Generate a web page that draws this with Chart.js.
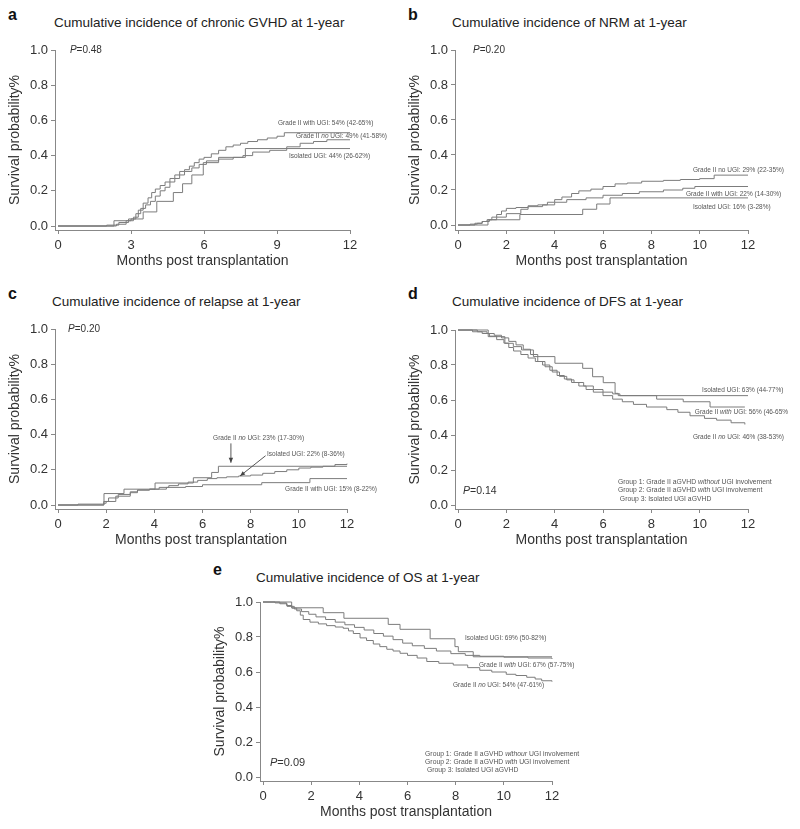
<!DOCTYPE html>
<html><head><meta charset="utf-8">
<script src="https://cdn.jsdelivr.net/npm/chart.js@4/dist/chart.umd.min.js"></script>
<style>
html,body{margin:0;padding:0;background:#fff;width:800px;height:829px;overflow:hidden;font-family:"Liberation Sans",Arial,sans-serif;}
canvas{position:absolute;}
.lbl{position:absolute;font-weight:bold;font-size:16px;color:#111;line-height:1;}
.ttl{position:absolute;font-size:13.5px;color:#222;line-height:1;white-space:nowrap;}
</style></head><body>
<div class="lbl" style="left:8px;top:7px">a</div>
<div class="ttl" style="left:54px;top:16px">Cumulative incidence of chronic GVHD at 1-year</div>
<div class="lbl" style="left:408px;top:7px">b</div>
<div class="ttl" style="left:452px;top:16px">Cumulative incidence of NRM at 1-year</div>
<div class="lbl" style="left:8px;top:286px">c</div>
<div class="ttl" style="left:52px;top:295px">Cumulative incidence of relapse at 1-year</div>
<div class="lbl" style="left:408px;top:286px">d</div>
<div class="ttl" style="left:452px;top:295px">Cumulative incidence of DFS at 1-year</div>
<div class="lbl" style="left:213px;top:562px">e</div>
<div class="ttl" style="left:256px;top:571px">Cumulative incidence of OS at 1-year</div>
<canvas id="ca"></canvas><canvas id="cb"></canvas><canvas id="cc"></canvas><canvas id="cd"></canvas><canvas id="ce"></canvas>
<script>
// ---------------- data ----------------
const monthsTicksA = [0, 3, 6, 9, 12];
const monthsTicks = [0, 2, 4, 6, 8, 10, 12];
const probTicks = [0, 0.2, 0.4, 0.6, 0.8, 1.0];

// a: chronic GVHD (cumulative incidence)
const aWithT = [0, 2.4, 2.8, 3.1, 3.3, 3.5, 3.7, 3.85, 4.0, 4.2, 4.4, 4.6, 4.8, 5.0, 5.2, 5.4, 5.6, 5.8, 6.0, 6.3, 6.6, 6.9, 7.2, 7.5, 7.8, 8.2, 8.6, 9.0, 9.3, 12];
const aWithV = [0, 0.01, 0.03, 0.05, 0.09, 0.13, 0.16, 0.19, 0.21, 0.23, 0.25, 0.27, 0.29, 0.31, 0.32, 0.34, 0.36, 0.38, 0.39, 0.41, 0.43, 0.45, 0.46, 0.47, 0.48, 0.49, 0.50, 0.51, 0.53, 0.53];
const aNoT = [0, 2.0, 2.5, 2.9, 3.2, 3.4, 3.6, 3.8, 4.0, 4.2, 4.4, 4.6, 4.8, 5.0, 5.2, 5.5, 5.8, 6.1, 6.6, 7.2, 7.6, 8.0, 8.7, 9.4, 9.95, 10.5, 11.05, 12];
const aNoV = [0, 0.005, 0.02, 0.04, 0.07, 0.10, 0.12, 0.14, 0.17, 0.20, 0.22, 0.25, 0.27, 0.29, 0.31, 0.33, 0.35, 0.37, 0.38, 0.39, 0.40, 0.42, 0.43, 0.45, 0.47, 0.48, 0.49, 0.49];
const aIsoT = [0, 2.3, 3.0, 3.5, 4.06, 4.74, 5.12, 5.5, 5.97, 6.6, 7.7, 12];
const aIsoV = [0, 0.03, 0.04, 0.08, 0.14, 0.19, 0.24, 0.29, 0.36, 0.39, 0.44, 0.44];

// b: NRM
const bNoT = [0, 0.5, 0.8, 1.0, 1.2, 1.4, 1.6, 1.8, 2.0, 2.4, 2.9, 3.3, 3.7, 4.0, 4.3, 4.7, 5.0, 5.5, 6.0, 6.5, 7.0, 7.6, 8.5, 9.2, 10.0, 10.6, 12];
const bNoV = [0, 0.005, 0.01, 0.02, 0.03, 0.045, 0.06, 0.08, 0.095, 0.10, 0.11, 0.115, 0.13, 0.145, 0.16, 0.18, 0.195, 0.205, 0.22, 0.235, 0.24, 0.25, 0.255, 0.26, 0.265, 0.285, 0.285];
const bWithT = [0, 0.7, 1.0, 1.3, 1.6, 2.0, 2.6, 2.9, 3.5, 4.0, 4.5, 5.3, 6.0, 6.8, 7.5, 8.5, 9.3, 9.8, 12];
const bWithV = [0, 0.01, 0.02, 0.03, 0.045, 0.065, 0.09, 0.105, 0.115, 0.13, 0.145, 0.155, 0.17, 0.18, 0.19, 0.20, 0.21, 0.22, 0.22];
const bIsoT = [0, 1.24, 2.56, 5.16, 5.74, 6.29, 12];
const bIsoV = [0, 0.03, 0.06, 0.09, 0.12, 0.155, 0.155];

// c: relapse
const cNoT = [0, 1.91, 2.74, 4.03, 5.62, 6.38, 6.66, 12];
const cNoV = [0, 0.065, 0.09, 0.125, 0.155, 0.185, 0.22, 0.22];
const cIsoT = [0, 0.83, 1.9, 2.1, 2.5, 3.0, 3.3, 3.8, 4.2, 4.6, 5.0, 5.4, 5.8, 6.2, 6.6, 7.0, 7.5, 8.0, 8.5, 9.0, 9.5, 10.0, 10.5, 11.0, 11.5, 12];
const cIsoV = [0, 0.005, 0.02, 0.04, 0.06, 0.075, 0.085, 0.09, 0.10, 0.11, 0.12, 0.13, 0.14, 0.15, 0.155, 0.16, 0.165, 0.17, 0.18, 0.19, 0.20, 0.21, 0.215, 0.22, 0.23, 0.235];
const cWithT = [0, 1.9, 2.0, 2.4, 3.0, 3.3, 3.8, 4.5, 5.3, 6.0, 8.46, 10.46, 12];
const cWithV = [0, 0.01, 0.02, 0.05, 0.07, 0.085, 0.09, 0.10, 0.105, 0.115, 0.127, 0.15, 0.15];

// d: DFS
const dIsoT = [0, 1.25, 1.94, 2.29, 2.63, 3.12, 4.01, 5.16, 5.57, 6.01, 6.5, 6.63, 12];
const dIsoV = [1, 0.962, 0.924, 0.905, 0.886, 0.848, 0.81, 0.781, 0.733, 0.699, 0.638, 0.625, 0.625];
const dWithT = [0, 0.8, 1.2, 1.5, 1.8, 2.1, 2.4, 2.7, 3.0, 3.3, 3.6, 3.9, 4.2, 4.5, 4.8, 5.2, 5.6, 6.0, 6.4, 6.7, 8.22, 9.32, 10.43, 11.87];
const dWithV = [1, 0.99, 0.98, 0.97, 0.955, 0.935, 0.915, 0.89, 0.86, 0.82, 0.79, 0.76, 0.735, 0.715, 0.70, 0.68, 0.66, 0.645, 0.635, 0.625, 0.605, 0.59, 0.56, 0.56];
const dNoT = [0, 0.6, 1.0, 1.3, 1.6, 1.9, 2.1, 2.3, 2.6, 2.9, 3.2, 3.5, 3.8, 4.1, 4.4, 4.7, 5.0, 5.3, 5.6, 6.0, 6.4, 6.8, 7.26, 7.8, 8.64, 9.1, 9.6, 10.2, 10.7, 11.3, 11.87];
const dNoV = [1, 0.99, 0.98, 0.965, 0.945, 0.925, 0.90, 0.88, 0.86, 0.84, 0.82, 0.80, 0.77, 0.74, 0.72, 0.70, 0.68, 0.66, 0.645, 0.625, 0.605, 0.59, 0.575, 0.56, 0.545, 0.53, 0.51, 0.495, 0.485, 0.47, 0.46];

// e: OS
const eIsoT = [0, 1.19, 2.5, 3.36, 5.2, 5.69, 6.94, 7.97, 8.11, 8.73, 12];
const eIsoV = [1, 0.967, 0.939, 0.907, 0.872, 0.844, 0.79, 0.745, 0.716, 0.687, 0.687];
const eWithT = [0, 0.7, 1.0, 1.3, 1.6, 1.9, 2.2, 2.6, 3.0, 3.4, 3.8, 4.2, 4.6, 5.0, 5.4, 5.8, 6.2, 6.7, 7.2, 7.8, 8.4, 9.0, 10.0, 11.0, 12];
const eWithV = [1, 0.99, 0.975, 0.96, 0.945, 0.93, 0.915, 0.90, 0.885, 0.87, 0.855, 0.84, 0.82, 0.805, 0.785, 0.765, 0.75, 0.735, 0.72, 0.705, 0.695, 0.69, 0.685, 0.68, 0.675];
const eNoT = [0, 0.5, 0.98, 1.2, 1.4, 1.55, 1.67, 1.95, 2.3, 2.64, 3.0, 3.33, 3.55, 3.75, 4.03, 4.3, 4.58, 4.85, 5.14, 5.4, 5.69, 6.0, 6.4, 6.8, 7.3, 7.9, 8.5, 9.0, 9.5, 10.1, 10.5, 10.95, 11.3, 11.57, 12];
const eNoV = [1, 0.995, 0.98, 0.965, 0.95, 0.925, 0.90, 0.885, 0.875, 0.865, 0.857, 0.85, 0.835, 0.82, 0.795, 0.78, 0.76, 0.745, 0.73, 0.72, 0.707, 0.695, 0.68, 0.66, 0.65, 0.64, 0.625, 0.61, 0.60, 0.587, 0.58, 0.57, 0.56, 0.55, 0.545];

// text labels (underscored words are italic)
const aLabels = ["Grade II with UGI: 54% (42-65%)", "Grade II _no_ UGI: 49% (41-58%)", "Isolated UGI: 44% (26-62%)"];
const bLabels = ["Grade II no UGI: 29% (22-35%)", "Grade II with UGI: 22% (14-30%)", "Isolated UGI: 16% (3-28%)"];
const cLabels = ["Grade II _no_ UGI: 23% (17-30%)", "Isolated UGI: 22% (8-36%)", "Grade II with UGI: 15% (8-22%)"];
const dLabels = ["Isolated UGI: 63% (44-77%)", "Grade II _with_ UGI: 56% (46-65%)", "Grade II _no_ UGI: 46% (38-53%)"];
const eLabels = ["Isolated UGI: 69% (50-82%)", "Grade II _with_ UGI: 67% (57-75%)", "Grade II _no_ UGI: 54% (47-61%)"];
const dGroups = ["Group 1: Grade II aGVHD _without_ UGI involvement", "Group 2: Grade II aGVHD _with_ UGI involvement", " Group 3: Isolated UGI aGVHD"];
const eGroups = ["Group 1: Grade II aGVHD _withour_ UGI involvement", "Group 2: Grade II aGVHD _with_ UGI involvement", " Group 3: Isolated UGI aGVHD"];
const pValues = ["0.48", "0.20", "0.20", "0.14", "0.09"];

// ---------------- layout ----------------
const FONT = '"Liberation Sans", Arial, sans-serif';
const LINE = '#7c7c7c';
const panels = [
  {id:'ca', L:55, T:50, R:350, B:230, x0:58, y0:226, xt:monthsTicksA,
   series:[[aWithT,aWithV],[aNoT,aNoV],[aIsoT,aIsoV]],
   labels:aLabels, lpos:[[9.04,0.583],[9.78,0.509],[9.49,0.394]], lsize:6.5,
   p:pValues[0], ppos:[0.49,1.0], psize:10},
  {id:'cb', L:455, T:50, R:748, B:230, x0:458, y0:225, xt:monthsTicks,
   series:[[bNoT,bNoV],[bWithT,bWithV],[bIsoT,bIsoV]],
   labels:bLabels, lpos:[[9.72,0.314],[9.43,0.177],[9.72,0.103]], lsize:6.5,
   p:pValues[1], ppos:[0.62,1.0], psize:10},
  {id:'cc', L:55, T:329, R:347, B:509, x0:58, y0:505, xt:monthsTicks,
   series:[[cNoT,cNoV],[cIsoT,cIsoV],[cWithT,cWithV]],
   labels:cLabels, lpos:[[6.44,0.377],[8.68,0.291],[9.43,0.091]], lsize:6.5,
   arrows:[[7.18,0.35,7.18,0.24],[8.62,0.28,7.56,0.165]],
   p:pValues[2], ppos:[0.42,1.0], psize:10},
  {id:'cd', L:455, T:330, R:748, B:509, x0:458, y0:505, xt:monthsTicks,
   series:[[dIsoT,dIsoV],[dWithT,dWithV],[dNoT,dNoV]],
   labels:dLabels, lpos:[[10.1,0.657],[9.8,0.531],[9.72,0.389]], lsize:6.5,
   groups:dGroups, gpos:[6.62,0.131], gstep:0.048,
   p:pValues[3], ppos:[0.21,0.08], psize:10.5},
  {id:'ce', L:260, T:602, R:552, B:781, x0:263, y0:777, xt:monthsTicks,
   series:[[eIsoT,eIsoV],[eWithT,eWithV],[eNoT,eNoV]],
   labels:eLabels, lpos:[[8.39,0.794],[8.97,0.64],[7.89,0.526]], lsize:6.5,
   groups:eGroups, gpos:[6.73,0.131], gstep:0.046,
   p:pValues[4], ppos:[0.29,0.08], psize:11}
];

function drawRich(ctx, x, y, text, size, color) {
  const parts = text.split('_');
  ctx.fillStyle = color; ctx.textBaseline = 'middle'; ctx.textAlign = 'left';
  let cx = x;
  parts.forEach((s, i) => {
    ctx.font = (i % 2 ? 'italic ' : '') + size + 'px ' + FONT;
    ctx.fillText(s, cx, y);
    cx += ctx.measureText(s).width;
  });
}

function makePlugin(p) {
  return {
    id: 'annot',
    afterDatasetsDraw(chart) {
      const ctx = chart.ctx, xs = chart.scales.x, ys = chart.scales.y;
      ctx.save();
      p.labels.forEach((t, i) => drawRich(ctx, xs.getPixelForValue(p.lpos[i][0]), ys.getPixelForValue(p.lpos[i][1]), t, p.lsize, '#555'));
      drawRich(ctx, xs.getPixelForValue(p.ppos[0]), ys.getPixelForValue(p.ppos[1]), '_P_=' + p.p, p.psize, '#333');
      if (p.groups) p.groups.forEach((t, i) => drawRich(ctx, xs.getPixelForValue(p.gpos[0]), ys.getPixelForValue(p.gpos[1] - i * p.gstep), t, 6.8, '#555'));
      if (p.arrows) p.arrows.forEach(a => {
        const x1 = xs.getPixelForValue(a[0]), y1 = ys.getPixelForValue(a[1]);
        const x2 = xs.getPixelForValue(a[2]), y2 = ys.getPixelForValue(a[3]);
        ctx.strokeStyle = '#444'; ctx.fillStyle = '#444'; ctx.lineWidth = 0.9;
        ctx.beginPath(); ctx.moveTo(x1, y1); ctx.lineTo(x2, y2); ctx.stroke();
        const ang = Math.atan2(y2 - y1, x2 - x1), L = 5, W = 2.2;
        ctx.beginPath();
        ctx.moveTo(x2, y2);
        ctx.lineTo(x2 - L * Math.cos(ang) + W * Math.sin(ang), y2 - L * Math.sin(ang) - W * Math.cos(ang));
        ctx.lineTo(x2 - L * Math.cos(ang) - W * Math.sin(ang), y2 - L * Math.sin(ang) + W * Math.cos(ang));
        ctx.closePath(); ctx.fill();
      });
      ctx.restore();
    }
  };
}

panels.forEach(p => {
  const cv = document.getElementById(p.id);
  const cw = p.R - p.L + 95, ch = p.B - p.T + 65;
  cv.width = cw; cv.height = ch;
  cv.style.left = (p.L - 55) + 'px'; cv.style.top = (p.T - 20) + 'px';
  cv.style.width = cw + 'px'; cv.style.height = ch + 'px';
  const pxPerMonth = (p.R - p.x0) / 12;
  const xmin = -(p.x0 - p.L) / pxPerMonth;
  const ymin = -(p.B - p.y0) / (p.y0 - p.T);
  const datasets = p.series.map(s => ({
    data: s[0].map((t, i) => ({x: t, y: s[1][i]})),
    borderColor: LINE, borderWidth: 1, pointRadius: 0, stepped: 'before',
    fill: false, tension: 0, clip: false
  }));
  new Chart(cv, {
    type: 'line',
    data: {datasets},
    options: {
      responsive: false, animation: false, devicePixelRatio: 1,
      layout: {padding: {left: 0, top: 20, right: 40, bottom: 5}},
      plugins: {legend: {display: false}, tooltip: {enabled: false}, title: {display: false}},
      scales: {
        x: {
          type: 'linear', min: xmin, max: 12,
          afterBuildTicks: s => { s.ticks = p.xt.map(v => ({value: v})); },
          afterFit: s => { s.height = 40; },
          ticks: {font: {family: FONT, size: 13}, color: '#333', padding: 4, maxRotation: 0, callback: v => String(v)},
          grid: {display: true, drawOnChartArea: false, drawTicks: true, tickLength: 4, color: '#888'},
          border: {display: true, color: '#888', width: 1},
          title: {display: true, text: 'Months post transplantation', font: {family: FONT, size: 14}, color: '#333', padding: {top: 0, bottom: 0}}
        },
        y: {
          type: 'linear', min: ymin, max: 1.0,
          afterBuildTicks: s => { s.ticks = probTicks.map(v => ({value: v})); },
          afterFit: s => { s.width = 55; },
          ticks: {font: {family: FONT, size: 13}, color: '#333', padding: 3, callback: v => v.toFixed(1)},
          grid: {display: true, drawOnChartArea: false, drawTicks: true, tickLength: 4, color: '#888'},
          border: {display: true, color: '#888', width: 1},
          title: {display: true, text: 'Survival probability%', font: {family: FONT, size: 14}, color: '#333', padding: {top: 7, bottom: 0}}
        }
      }
    },
    plugins: [makePlugin(p)]
  });
});
</script>
</body></html>
